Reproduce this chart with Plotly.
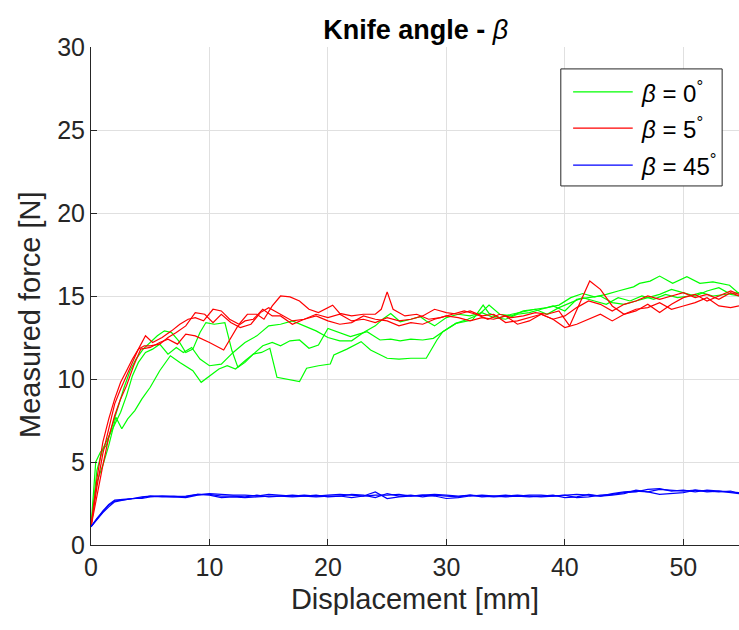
import plotly.graph_objects as go

# Measured force vs. knife displacement for three knife angles (three runs each)

red_x = [
    [0, 0.5, 1, 1.5, 2, 2.5, 3, 3.5, 4, 4.6, 5.2, 6, 6.8, 7.5, 8.2, 8.8, 9.5, 10.3, 11, 11.7,
     12.5, 13.2, 14, 14.6, 15.3, 16, 16.8, 17.6, 18.4, 19.2, 20.4, 21, 22, 23, 24, 24.5, 25,
     25.5, 26.5, 27.5, 28.5, 29.5, 30.5, 31.5, 32.5, 33.5, 34.5, 35.5, 36.5, 37.5, 38.5, 39.5,
     40.4, 41.2, 42.1, 43, 44, 45, 46, 47, 48, 49, 50, 51, 52, 53, 54, 54.7],
    [0, 0.5, 1, 1.5, 2, 2.5, 3, 3.5, 4, 4.5, 5, 5.8, 6.5, 7.2, 8, 8.8, 9.6, 10.3, 11, 11.8,
     12.6, 13.5, 14.3, 15, 16, 17, 18, 19, 20, 21, 22, 23, 24, 25, 26, 27, 28, 29, 30, 31, 32,
     33, 34, 35, 36, 37, 38, 39, 40, 41, 42, 43, 44, 45, 46, 47, 48, 49, 50, 51, 52, 53, 54, 54.7],
    [0, 0.5, 1, 1.5, 2, 2.5, 3, 3.6, 4.2, 5, 5.8, 6.5, 7.3, 8, 8.8, 10, 11.2, 12.4, 13, 13.7,
     14.5, 15.3, 16, 17, 18, 19, 20, 21, 22, 23, 24, 25, 26, 27, 28, 29, 30, 31, 32, 33, 34,
     35, 36, 37, 38, 39, 40, 41, 42, 43, 44, 45, 46, 47, 48, 49, 50, 51, 52, 53, 54, 54.7],
]
red_y = [
    [1.1, 4.0, 6.2, 7.6, 8.8, 9.8, 10.5, 11.2, 11.8, 12.6, 12.2, 12.5, 12.9, 13.3, 13.6, 13.7,
     13.5, 14.2, 14.1, 13.6, 13.3, 13.9, 13.9, 13.6, 14.4, 15.0, 14.95, 14.7, 14.2, 14.0, 14.45,
     13.95, 13.8, 13.9, 13.9, 14.2, 15.25, 14.2, 13.8, 13.9, 13.6, 13.7, 13.9, 14.1, 13.9, 13.6,
     13.9, 13.7, 13.8, 14.0, 13.9, 14.1, 13.2, 14.5, 15.9, 15.4, 14.4, 13.9, 14.1, 14.5, 14.0,
     14.5, 14.9, 15.1, 14.7, 15.0, 15.3, 15.1],
    [1.1, 3.5, 5.5, 7.0, 8.5, 9.4, 10.2, 11.0, 11.8, 12.0, 12.0, 12.1, 12.5, 12.8, 13.2, 14.0,
     13.9, 13.4, 13.9, 13.4, 13.1, 13.3, 14.0, 14.3, 13.9, 13.5, 13.6, 13.9, 13.7, 13.9, 13.5,
     13.6, 13.4, 13.7, 13.5, 13.6, 13.8, 14.2, 14.0, 13.9, 14.1, 13.8, 13.9, 13.4, 13.5, 13.7,
     13.9, 13.6, 13.8, 14.3, 14.7, 14.5, 14.1, 14.5, 14.7, 15.0, 14.8, 15.0, 15.2, 14.9, 15.1,
     14.8, 15.2, 15.0],
    [1.1, 3.0, 4.8, 6.5, 7.8, 8.8, 9.6, 10.8, 11.8, 11.9, 12.2, 12.4, 12.1, 12.7, 12.6, 12.2,
     11.75, 13.2, 13.5, 13.6, 14.2, 13.8, 13.8, 13.3, 13.6, 13.8, 13.5, 13.3, 13.4, 13.8, 13.6,
     13.5, 13.2, 13.4, 13.3, 13.6, 13.8, 13.7, 13.5, 13.7, 13.6, 13.8, 13.3, 13.5, 13.9, 13.6,
     13.1, 13.3, 13.6, 13.9, 13.5, 13.9, 14.2, 14.3, 14.6, 14.2, 14.4, 14.6, 14.9, 14.4, 14.3, 14.4],
]

green_x = [
    [0, 0.4, 0.8, 1.3, 1.8, 2.3, 2.8, 3.3, 3.8, 4.4, 5, 5.6, 6.2, 6.8, 7.4, 8, 8.6, 9.2, 9.7,
     10.4, 11.3, 11.9, 12.4, 13, 13.7, 14.5, 15.3, 16, 16.8, 17.6, 18.4, 19.2, 20, 21, 21.9,
     22.6, 23.3, 24.4, 25.3, 26.1, 27, 28, 28.9, 29.7, 30.8, 31.8, 32.8, 33.6, 34.5, 35.5,
     36.5, 37.5, 38.5, 39.5, 40.5, 41.5, 42.5, 43.5, 44.5, 45.5, 46.5, 47.5, 48.5, 49.5, 50.5,
     51.5, 52.5, 53.5, 54.7],
    [0, 0.5, 1, 1.5, 2.1, 2.6, 3.1, 3.7, 4.3, 5, 5.8, 6.7, 7.5, 8.6, 9.3, 10, 10.8, 11.5, 12.2,
     13, 13.7, 14.4, 15.1, 15.7, 16.6, 17.6, 18.2, 19.2, 20.2, 20.5, 21.6, 22.8, 23.6, 25, 26,
     27, 28.3, 29.2, 29.7, 30.8, 32.2, 33.1, 33.6, 34.5, 35.5, 36.5, 37.5, 38.5, 39.5, 40.5,
     41.5, 42.5, 43.5, 44.5, 45.8, 46.3, 47.2, 48, 49.1, 50.3, 51.4, 52.5, 53.9, 54.7],
    [0, 0.5, 1, 1.5, 2, 2.5, 3, 3.5, 4, 4.6, 5.2, 5.8, 6.5, 7.2, 7.8, 8.5, 9.2, 10, 11, 12, 13,
     14, 15, 16, 17, 18, 19, 20, 21, 22, 23, 24, 24.7, 25.3, 26.1, 27, 27.8, 28.3, 29, 30, 31,
     32, 33, 34, 35, 36, 37, 38, 39, 40, 41, 42, 43, 44, 45, 46, 47, 48, 49, 50, 51, 52, 53, 54,
     54.7],
]
green_y = [
    [1.1, 5.0, 5.6, 6.0, 7.2, 8.4, 9.5, 10.5, 11.2, 11.8, 12.2, 12.6, 12.9, 12.8, 12.3, 11.6,
     11.8, 12.8, 13.4, 13.3, 13.4, 11.7, 10.7, 11.0, 11.5, 12.0, 12.2, 12.0, 12.3, 12.35, 11.85,
     12.05, 13.05, 12.8, 12.55, 12.7, 12.85, 12.35, 12.4, 12.3, 12.4, 12.35, 12.45, 12.85,
     13.35, 13.6, 13.9, 14.45, 13.9, 13.8, 14.1, 14.2, 13.9, 14.3, 14.6, 14.9, 14.7, 14.5, 14.9,
     14.7, 15.0, 14.8, 15.1, 14.9, 15.0, 15.2, 15.0, 15.1, 15.2],
    [1.1, 3.8, 4.8, 6.0, 7.7, 7.0, 7.6, 8.1, 8.8, 9.5, 10.5, 11.4, 11.0, 10.5, 9.8, 10.2, 10.6,
     10.8, 10.6, 11.1, 11.5, 11.6, 11.85, 10.1, 10.0, 9.85, 10.65, 10.8, 10.9, 11.45, 11.8,
     12.25, 11.75, 11.25, 11.2, 11.25, 11.25, 12.35, 12.85, 13.35, 13.55, 14.45, 13.95, 13.7,
     13.9, 14.05, 14.2, 14.3, 14.45, 14.9, 15.15, 14.95, 15.1, 15.3, 15.55, 15.76, 15.9, 16.2,
     15.76, 16.16, 15.76, 15.85, 15.65, 15.15],
    [1.1, 4.5, 5.8, 6.5, 7.2, 8.0, 9.0, 10.2, 11.0, 11.6, 11.8, 12.1, 11.5, 11.9, 11.6, 11.9,
     11.2, 10.8, 10.9, 11.6, 12.2, 12.6, 13.2, 13.3, 13.5, 13.2, 12.9, 12.5, 12.3, 12.3, 12.8,
     13.2, 13.65, 13.95, 13.45, 13.6, 13.75, 13.5, 13.2, 13.7, 13.9, 13.8, 14.0, 13.7, 13.6,
     13.9, 14.0, 14.2, 14.4, 14.1, 14.8, 14.9, 15.0, 14.6, 14.5, 14.7, 14.9, 15.1, 15.4, 15.2,
     15.0, 15.3, 15.5, 15.1, 15.0],
]

blue_x = [0, 0.5, 1, 1.5, 2, 2.7, 3.5, 4.3, 5, 6, 7, 8, 9, 10, 11, 12, 13, 14, 15, 16, 17, 18,
          19, 20, 21, 22, 23, 24, 25, 26, 27, 28, 29, 30, 31, 32, 33, 34, 35, 36, 37, 38, 39,
          40, 41, 42, 43, 44, 45, 46, 47, 48, 49, 50, 51, 52, 53, 54, 54.7]
blue_y = [
    [1.1, 1.6, 2.0, 2.4, 2.65, 2.7, 2.75, 2.85, 2.95, 2.95, 2.9, 2.85, 3.0, 3.1, 3.05, 3.0,
     3.0, 2.95, 3.05, 3.0, 2.95, 3.0, 2.95, 3.0, 3.05, 3.0, 2.95, 3.0, 3.0, 3.05, 2.95, 3.0,
     3.05, 3.0, 2.95, 3.0, 2.95, 2.9, 2.95, 3.0, 2.95, 2.9, 2.95, 3.0, 3.05, 3.0, 2.95, 3.1,
     3.2, 3.25, 3.2, 3.35, 3.3, 3.25, 3.3, 3.2, 3.25, 3.15, 3.1],
    [1.1, 1.55, 1.95, 2.3, 2.6, 2.7, 2.8, 2.8, 2.9, 2.95, 2.95, 2.9, 3.05, 3.0, 2.85, 2.9,
     2.85, 2.9, 2.95, 2.95, 2.9, 2.95, 3.0, 2.9, 2.95, 2.85, 2.95, 3.2, 2.8, 2.9, 2.95, 3.0,
     2.95, 2.8, 2.85, 2.95, 3.0, 2.95, 2.9, 2.95, 2.9, 2.95, 3.0, 2.85, 2.9, 3.05, 2.95, 3.0,
     3.1, 3.3, 3.2, 3.05, 3.1, 3.15, 3.3, 3.25, 3.2, 3.25, 3.1],
    [1.1, 1.6, 2.05, 2.45, 2.7, 2.75, 2.8, 2.9, 2.95, 2.9, 2.9, 2.95, 3.05, 3.05, 2.95, 2.95,
     2.9, 3.0, 2.9, 2.95, 3.0, 2.95, 2.9, 2.95, 2.95, 3.05, 3.0, 2.85, 3.1, 2.95, 3.0, 2.9,
     3.0, 2.95, 2.9, 3.0, 2.9, 2.95, 3.0, 2.95, 3.0, 3.0, 2.95, 3.0, 2.85, 2.9, 3.0, 3.05,
     3.15, 3.2, 3.35, 3.4, 3.25, 3.3, 3.2, 3.3, 3.25, 3.2, 3.15],
]

legend_labels = ["<i>β</i> = 0<sup>°</sup>", "<i>β</i> = 5<sup>°</sup>", "<i>β</i> = 45<sup>°</sup>"]
series_colors = ["#00ff00", "#ff0000", "#0000ff"]

x_ticks = [0, 10, 20, 30, 40, 50]
y_ticks = [0, 5, 10, 15, 20, 25, 30]

FONT = "Liberation Sans, Arial, sans-serif"

fig = go.Figure()

groups = [
    (green_x, green_y, series_colors[0], legend_labels[0]),
    (red_x, red_y, series_colors[1], legend_labels[1]),
    ([blue_x] * 3, blue_y, series_colors[2], legend_labels[2]),
]
for xs, ys, color, label in groups:
    for xv, yv in zip(xs, ys):
        fig.add_trace(go.Scatter(
            x=xv, y=yv, mode="lines", name=label, legendgroup=label,
            line=dict(color=color, width=1.2), showlegend=False,
        ))

tick_font = dict(family=FONT, size=25, color="#262626")
label_font = dict(family=FONT, size=29, color="#262626")
fig.update_layout(
    width=739, height=630,
    margin=dict(l=91, r=0, t=47, b=85),
    plot_bgcolor="white", paper_bgcolor="white",
    title=dict(
        text="<b>Knife angle - </b><i>β</i>",
        x=0.5625, xanchor="center", y=0.953, yanchor="middle",
        font=dict(family=FONT, size=27, color="black"),
    ),
    xaxis=dict(
        range=[0, 54.7], tickvals=x_ticks, ticks="inside", ticklen=6, tickcolor="#262626",
        showline=True, linecolor="#262626", linewidth=1, mirror=False,
        showgrid=True, gridcolor="#e0e0e0", gridwidth=1, zeroline=False,
        tickfont=tick_font,
        title=dict(text="Displacement [mm]", font=label_font, standoff=8),
    ),
    yaxis=dict(
        range=[0, 30], tickvals=y_ticks, ticks="inside", ticklen=6, tickcolor="#262626",
        showline=True, linecolor="#262626", linewidth=1, mirror=False,
        showgrid=True, gridcolor="#e0e0e0", gridwidth=1, zeroline=False,
        tickfont=tick_font,
    ),
    showlegend=False,
)

# Y-axis title, placed as a rotated annotation
fig.add_annotation(xref="paper", yref="paper", x=-0.094, y=0.462, xanchor="center",
                   yanchor="middle", textangle=-90, showarrow=False,
                   text="Measured force [N]", font=label_font)

# Legend box drawn in paper coordinates
lg_x0, lg_x1, lg_y0, lg_y1 = 0.725, 0.974, 0.721, 0.956
fig.add_shape(type="rect", xref="paper", yref="paper", x0=lg_x0, x1=lg_x1, y0=lg_y0, y1=lg_y1,
              line=dict(color="#262626", width=1), fillcolor="white", layer="above")
row_y = [0.910, 0.837, 0.763]
for yy, color, label in zip(row_y, series_colors, legend_labels):
    fig.add_shape(type="line", xref="paper", yref="paper", x0=0.744, x1=0.836, y0=yy, y1=yy,
                  line=dict(color=color, width=1.2), layer="above")
    fig.add_annotation(xref="paper", yref="paper", x=0.846, y=yy, xanchor="left", yanchor="middle",
                       text=label, showarrow=False,
                       font=dict(family=FONT, size=24, color="black"))

fig.write_html("out.html")
